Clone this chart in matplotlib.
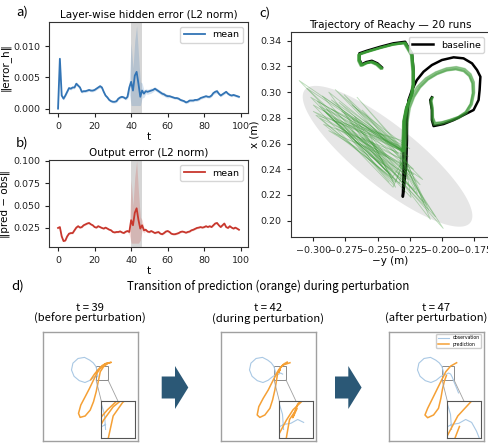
import numpy as np
import matplotlib
matplotlib.use('Agg')
import matplotlib.pyplot as plt
from matplotlib.patches import Rectangle, Polygon

W, H = 488, 443
CJK = ['Noto Sans CJK JP', 'DejaVu Sans']

BLUE = '#3274b5'
RED = '#c8372d'
GREEN = '#3a9a35'
SPAN = '#d6d6d6'
OBS_C = '#a9c8e4'
PRED_C = '#f5a035'
ARROW_C = '#2b5876'

plt.rcParams.update({
    'font.size': 6.8,
    'axes.edgecolor': '#333333',
    'axes.linewidth': 0.8,
    'xtick.major.width': 0.8,
    'ytick.major.width': 0.8,
    'xtick.major.size': 3,
    'ytick.major.size': 3,
    'xtick.labelsize': 6.8,
    'ytick.labelsize': 6.8,
    'xtick.color': '#222222',
    'ytick.color': '#222222',
})

# ---- a) / b) error curves (t = 0..99) ----
PERT_START, PERT_END = 40, 46

HIDDEN_MEAN = [
    0.0000, 0.0080, 0.0021, 0.0016, 0.0021, 0.0027, 0.0033, 0.0032, 0.0034, 0.0034,
    0.0040, 0.0037, 0.0034, 0.0027, 0.0028, 0.0028, 0.0029, 0.0030, 0.0029, 0.0029,
    0.0030, 0.0032, 0.0034, 0.0036, 0.0034, 0.0027, 0.0021, 0.0018, 0.0014, 0.0012,
    0.0011, 0.0011, 0.0012, 0.0016, 0.0018, 0.0019, 0.0018, 0.0016, 0.0019, 0.0034,
    0.0043, 0.0029, 0.0053, 0.0059, 0.0040, 0.0019, 0.0029, 0.0024, 0.0028, 0.0027,
    0.0028, 0.0029, 0.0030, 0.0032, 0.0030, 0.0028, 0.0026, 0.0024, 0.0023, 0.0021,
    0.0020, 0.0020, 0.0019, 0.0018, 0.0017, 0.0017, 0.0016, 0.0014, 0.0013, 0.0012,
    0.0010, 0.0011, 0.0013, 0.0013, 0.0013, 0.0014, 0.0014, 0.0015, 0.0017, 0.0018,
    0.0019, 0.0020, 0.0019, 0.0019, 0.0021, 0.0025, 0.0027, 0.0028, 0.0024, 0.0021,
    0.0023, 0.0025, 0.0027, 0.0024, 0.0022, 0.0021, 0.0022, 0.0021, 0.0020, 0.0019,
]
HIDDEN_SPREAD = [
    0.0002, 0.0004, 0.0003, 0.0002, 0.0002, 0.0002, 0.0002, 0.0002, 0.0002, 0.0002,
    0.0003, 0.0002, 0.0002, 0.0002, 0.0002, 0.0002, 0.0002, 0.0002, 0.0002, 0.0002,
    0.0002, 0.0002, 0.0002, 0.0003, 0.0002, 0.0002, 0.0002, 0.0002, 0.0002, 0.0002,
    0.0002, 0.0002, 0.0002, 0.0002, 0.0002, 0.0002, 0.0002, 0.0002, 0.0003, 0.0010,
    0.0062, 0.0036, 0.0056, 0.0074, 0.0048, 0.0024, 0.0012, 0.0006, 0.0004, 0.0004,
    0.0004, 0.0004, 0.0003, 0.0003, 0.0003, 0.0003, 0.0003, 0.0003, 0.0003, 0.0003,
    0.0003, 0.0002, 0.0002, 0.0002, 0.0002, 0.0002, 0.0002, 0.0002, 0.0002, 0.0002,
    0.0002, 0.0002, 0.0002, 0.0002, 0.0002, 0.0002, 0.0002, 0.0002, 0.0002, 0.0002,
    0.0002, 0.0002, 0.0002, 0.0002, 0.0002, 0.0002, 0.0003, 0.0003, 0.0002, 0.0002,
    0.0002, 0.0002, 0.0002, 0.0002, 0.0002, 0.0002, 0.0002, 0.0002, 0.0002, 0.0002,
]
HIDDEN_FLOOR = 0.0005

OUTPUT_MEAN = [
    0.0250, 0.0260, 0.0156, 0.0103, 0.0110, 0.0156, 0.0186, 0.0193, 0.0193, 0.0224,
    0.0254, 0.0270, 0.0254, 0.0260, 0.0280, 0.0290, 0.0300, 0.0306, 0.0290, 0.0280,
    0.0260, 0.0254, 0.0270, 0.0260, 0.0250, 0.0243, 0.0254, 0.0243, 0.0231, 0.0224,
    0.0205, 0.0200, 0.0205, 0.0205, 0.0212, 0.0200, 0.0193, 0.0208, 0.0216, 0.0205,
    0.0337, 0.0280, 0.0420, 0.0470, 0.0340, 0.0243, 0.0280, 0.0224, 0.0230, 0.0210,
    0.0205, 0.0216, 0.0205, 0.0193, 0.0200, 0.0205, 0.0186, 0.0180, 0.0193, 0.0210,
    0.0216, 0.0205, 0.0186, 0.0180, 0.0180, 0.0186, 0.0193, 0.0205, 0.0210, 0.0205,
    0.0197, 0.0205, 0.0210, 0.0224, 0.0230, 0.0240, 0.0250, 0.0254, 0.0260, 0.0254,
    0.0260, 0.0270, 0.0260, 0.0270, 0.0260, 0.0280, 0.0300, 0.0306, 0.0280, 0.0260,
    0.0280, 0.0300, 0.0260, 0.0250, 0.0270, 0.0254, 0.0243, 0.0254, 0.0243, 0.0230,
]
OUTPUT_SPREAD = [
    0.0010, 0.0012, 0.0010, 0.0009, 0.0009, 0.0009, 0.0009, 0.0009, 0.0009, 0.0009,
    0.0009, 0.0009, 0.0009, 0.0009, 0.0009, 0.0009, 0.0009, 0.0009, 0.0009, 0.0009,
    0.0009, 0.0009, 0.0009, 0.0009, 0.0009, 0.0009, 0.0009, 0.0009, 0.0009, 0.0009,
    0.0009, 0.0009, 0.0009, 0.0009, 0.0009, 0.0009, 0.0009, 0.0009, 0.0010, 0.0030,
    0.0450, 0.0220, 0.0400, 0.0530, 0.0320, 0.0130, 0.0060, 0.0030, 0.0015, 0.0012,
    0.0012, 0.0011, 0.0011, 0.0010, 0.0010, 0.0010, 0.0010, 0.0010, 0.0010, 0.0010,
    0.0010, 0.0009, 0.0009, 0.0009, 0.0009, 0.0009, 0.0009, 0.0009, 0.0009, 0.0009,
    0.0009, 0.0009, 0.0009, 0.0009, 0.0009, 0.0009, 0.0009, 0.0009, 0.0009, 0.0009,
    0.0009, 0.0009, 0.0009, 0.0009, 0.0009, 0.0010, 0.0010, 0.0010, 0.0009, 0.0009,
    0.0009, 0.0009, 0.0009, 0.0009, 0.0009, 0.0009, 0.0009, 0.0009, 0.0009, 0.0009,
]
OUTPUT_FLOOR = 0.008

# ---- c) Reachy trajectory ----
BASE_X = [-0.2467, -0.2501, -0.2545, -0.2589, -0.2623, -0.2642, -0.2642, -0.2584, -0.2480,
          -0.2377, -0.2286, -0.2233, -0.2221, -0.2221, -0.2233, -0.2272, -0.2293, -0.2293,
          -0.2299, -0.2299, -0.2304, -0.2278, -0.2272, -0.2272, -0.2260, -0.2233, -0.2195,
          -0.2143, -0.2078, -0.2000, -0.1909, -0.1832, -0.1766, -0.1727, -0.1701, -0.1707,
          -0.1715, -0.1754, -0.1832, -0.1909, -0.1987, -0.2065, -0.2078, -0.2078, -0.2091,
          -0.2078]
BASE_Y = [0.3193, 0.3224, 0.3244, 0.3234, 0.3216, 0.3255, 0.3302, 0.3322, 0.3353,
          0.3380, 0.3392, 0.3302, 0.3172, 0.3069, 0.2991, 0.2887, 0.2783, 0.2682,
          0.2550, 0.2371, 0.2186, 0.2420, 0.2627, 0.2783, 0.2939, 0.3016, 0.3094,
          0.3159, 0.3211, 0.3250, 0.3271, 0.3263, 0.3224, 0.3172, 0.3120, 0.3016,
          0.2939, 0.2861, 0.2822, 0.2783, 0.2752, 0.2736, 0.2783, 0.2861, 0.2939,
          0.2960]
PRE_POINTS = 19  # baseline points reached before the push

# mean path of the runs after the perturbation
RUN_LOOP_X = [-0.2310, -0.2300, -0.2290, -0.2270, -0.2235, -0.2185, -0.2120, -0.2045,
              -0.1965, -0.1890, -0.1825, -0.1780, -0.1755, -0.1752, -0.1770, -0.1810,
              -0.1870, -0.1940, -0.2010, -0.2060, -0.2075, -0.2078, -0.2088, -0.2078]
RUN_LOOP_Y = [0.2450, 0.2600, 0.2750, 0.2870, 0.2960, 0.3040, 0.3105, 0.3150,
              0.3180, 0.3190, 0.3175, 0.3135, 0.3075, 0.2995, 0.2905, 0.2840,
              0.2800, 0.2775, 0.2755, 0.2750, 0.2790, 0.2870, 0.2930, 0.2960]
LOOP_CENTER = (-0.193, 0.296)
RUN_LOOP_SCALE = [0.96, 1.01, 0.93, 1.04, 0.98, 0.94, 1.03, 0.99, 0.95, 1.05,
                  0.97, 0.92, 1.00, 0.95, 1.03, 0.94, 0.98, 1.02, 0.93, 0.97]
RUN_DX = [-0.0006, 0.0004, -0.0010, 0.0002, -0.0004, 0.0006, -0.0008, 0.0000, -0.0002, 0.0005,
          -0.0012, 0.0003, -0.0005, 0.0001, -0.0009, 0.0004, -0.0003, -0.0007, 0.0002, -0.0001]
RUN_DY = [-0.0010, -0.0006, -0.0014, -0.0008, -0.0004, -0.0012, -0.0009, -0.0005, -0.0011, -0.0007,
          -0.0013, -0.0003, -0.0010, -0.0006, -0.0008, -0.0012, -0.0005, -0.0009, -0.0007, -0.0011]
# positions reached during the push (4 steps per run)
PERT_X = [
    [-0.311, -0.236, -0.290, -0.215], [-0.283, -0.228, -0.262, -0.199],
    [-0.295, -0.240, -0.270, -0.209], [-0.266, -0.232, -0.285, -0.222],
    [-0.302, -0.237, -0.255, -0.212], [-0.278, -0.226, -0.292, -0.229],
    [-0.288, -0.243, -0.270, -0.205], [-0.272, -0.230, -0.298, -0.236],
    [-0.305, -0.238, -0.260, -0.219], [-0.280, -0.222, -0.288, -0.226],
    [-0.293, -0.246, -0.276, -0.214], [-0.262, -0.234, -0.300, -0.238],
    [-0.284, -0.229, -0.266, -0.217], [-0.297, -0.241, -0.279, -0.224],
    [-0.270, -0.225, -0.286, -0.231], [-0.290, -0.236, -0.257, -0.210],
    [-0.276, -0.232, -0.295, -0.239], [-0.300, -0.243, -0.268, -0.221],
    [-0.286, -0.230, -0.282, -0.228], [-0.268, -0.238, -0.292, -0.233],
]
PERT_Y = [
    [0.309, 0.232, 0.284, 0.232], [0.302, 0.246, 0.265, 0.194],
    [0.289, 0.236, 0.280, 0.201], [0.296, 0.258, 0.278, 0.236],
    [0.296, 0.229, 0.262, 0.212], [0.285, 0.250, 0.275, 0.226],
    [0.300, 0.238, 0.270, 0.203], [0.276, 0.262, 0.282, 0.230],
    [0.303, 0.240, 0.258, 0.221], [0.292, 0.240, 0.270, 0.232],
    [0.297, 0.244, 0.284, 0.214], [0.286, 0.252, 0.290, 0.226],
    [0.280, 0.236, 0.272, 0.228], [0.293, 0.230, 0.277, 0.218],
    [0.290, 0.256, 0.287, 0.240], [0.287, 0.226, 0.268, 0.208],
    [0.298, 0.248, 0.280, 0.233], [0.285, 0.250, 0.262, 0.224],
    [0.294, 0.244, 0.272, 0.236], [0.281, 0.234, 0.286, 0.229],
]
ELLIPSE_CENTER = (-0.2423, 0.2501)
ELLIPSE_MAJOR = (0.0643, -0.0517)
ELLIPSE_MINOR = (0.0147, 0.0181)

# ---- d) prediction snapshots (box-normalised coordinates) ----
SNAP_T = [39, 42, 47]
SNAP_PHASE = ['before perturbation', 'during perturbation', 'after perturbation']
OBS_U = [0.578, 0.574, 0.560, 0.532, 0.495, 0.440, 0.372, 0.318, 0.303, 0.330, 0.385,
         0.445, 0.500, 0.545, 0.578, 0.605, 0.630, 0.652, 0.670, 0.688, 0.712, 0.735]
OBS_V = [0.588, 0.640, 0.682, 0.715, 0.740, 0.765, 0.755, 0.712, 0.650, 0.592, 0.552,
         0.535, 0.556, 0.588, 0.605, 0.609, 0.622, 0.612, 0.582, 0.540, 0.490, 0.440]
OBS_SHOWN = [15, 18, 22]
PRED_U = [
    [0.505, 0.545, 0.585, 0.625, 0.670, 0.722, 0.658, 0.606, 0.570, 0.535, 0.493, 0.447,
     0.401, 0.377, 0.394, 0.447, 0.500, 0.535, 0.563, 0.588, 0.606, 0.641, 0.676],
    [0.729, 0.658, 0.613, 0.588, 0.553, 0.500, 0.447, 0.401, 0.384, 0.412, 0.465, 0.518,
     0.546, 0.570, 0.588, 0.600, 0.628, 0.612, 0.630, 0.665, 0.700],
    [0.715, 0.653, 0.601, 0.566, 0.514, 0.462, 0.410, 0.382, 0.410, 0.472, 0.524, 0.549,
     0.565, 0.585, 0.607],
]
PRED_V = [
    [0.560, 0.612, 0.655, 0.690, 0.712, 0.720, 0.704, 0.665, 0.619, 0.558, 0.482, 0.405,
     0.329, 0.253, 0.216, 0.229, 0.283, 0.360, 0.451, 0.558, 0.634, 0.680, 0.704],
    [0.716, 0.695, 0.655, 0.619, 0.558, 0.466, 0.390, 0.314, 0.238, 0.216, 0.238, 0.299,
     0.375, 0.466, 0.558, 0.622, 0.660, 0.628, 0.675, 0.705, 0.722],
    [0.716, 0.686, 0.634, 0.573, 0.482, 0.390, 0.299, 0.238, 0.213, 0.238, 0.299, 0.390,
     0.470, 0.545, 0.598],
]
ZOOM_U = (0.562, 0.688)
ZOOM_V = (0.558, 0.686)

fig = plt.figure(figsize=(W / 100, H / 100), dpi=100)


def px_axes(left, top, right, bottom):
    return fig.add_axes([left / W, 1 - bottom / H, (right - left) / W, (bottom - top) / H])


def panel_label(x, y, s):
    fig.text(x / W, 1 - y / H, s, fontsize=9.5, family=CJK, ha='center', va='center')


t = np.arange(len(HIDDEN_MEAN))

# a) hidden error
ax = px_axes(49, 22, 248, 113)
ax.axvspan(PERT_START, PERT_END, color=SPAN, lw=0, zorder=0)
hm, hs = np.array(HIDDEN_MEAN), np.array(HIDDEN_SPREAD)
h_lo = np.where(hs > 0.001, np.maximum(hm - hs, HIDDEN_FLOOR), hm - hs)
ax.fill_between(t, h_lo, hm + hs, color=BLUE, alpha=0.2, lw=0)
ax.plot(t, hm, color=BLUE, lw=1.3, label='mean')
ax.set_xlim(-4.95, 103.95)
ax.set_ylim(-0.0007, 0.0139)
ax.set_yticks([0.0, 0.005, 0.010])
ax.yaxis.set_major_formatter(matplotlib.ticker.FormatStrFormatter('%.3f'))
ax.set_title('Layer-wise hidden error (L2 norm)', fontsize=7.5, pad=3)
ax.set_xlabel('t', fontsize=7.5, labelpad=1)
ax.set_ylabel('‖error_h‖', fontsize=7.5, labelpad=2)
ax.legend(loc='upper right', fontsize=6.8, handlelength=2.2, borderpad=0.4)
panel_label(21.7, 11.7, 'a)')

# b) output error
ax = px_axes(49, 160, 248, 247)
ax.axvspan(PERT_START, PERT_END, color=SPAN, lw=0, zorder=0)
om, os_ = np.array(OUTPUT_MEAN), np.array(OUTPUT_SPREAD)
o_lo = np.where(os_ > 0.002, np.maximum(om - os_, OUTPUT_FLOOR), om - os_)
ax.fill_between(t, o_lo, om + os_, color=RED, alpha=0.2, lw=0)
ax.plot(t, om, color=RED, lw=1.3, label='mean')
ax.set_xlim(-4.95, 103.95)
ax.set_ylim(0.0037, 0.101)
ax.set_yticks([0.025, 0.050, 0.075, 0.100])
ax.yaxis.set_major_formatter(matplotlib.ticker.FormatStrFormatter('%.3f'))
ax.set_title('Output error (L2 norm)', fontsize=7.5, pad=3)
ax.set_xlabel('t', fontsize=7.5, labelpad=1)
ax.set_ylabel('‖pred − obs‖', fontsize=7.5, labelpad=2)
ax.legend(loc='upper right', fontsize=6.8, handlelength=2.2, borderpad=0.4)
panel_label(22, 143, 'b)')

# c) trajectory
ax = px_axes(290.7, 32, 489, 237)
th = np.linspace(0, 2 * np.pi, 200)
ex = ELLIPSE_CENTER[0] + ELLIPSE_MAJOR[0] * np.cos(th) + ELLIPSE_MINOR[0] * np.sin(th)
ey = ELLIPSE_CENTER[1] + ELLIPSE_MAJOR[1] * np.cos(th) + ELLIPSE_MINOR[1] * np.sin(th)
ax.fill(ex, ey, color='#e6e6e6', lw=0, zorder=0)
ax.plot(BASE_X, BASE_Y, color='black', lw=1.8, zorder=2, label='baseline')
bx, by = np.array(BASE_X), np.array(BASE_Y)
lx, ly = np.array(RUN_LOOP_X), np.array(RUN_LOOP_Y)
for r in range(len(RUN_LOOP_SCALE)):
    pre_x = bx[:PRE_POINTS] + RUN_DX[r]
    pre_y = by[:PRE_POINTS] + RUN_DY[r]
    post_x = LOOP_CENTER[0] + (lx - LOOP_CENTER[0]) * RUN_LOOP_SCALE[r]
    post_y = LOOP_CENTER[1] + (ly - LOOP_CENTER[1]) * RUN_LOOP_SCALE[r]
    ax.plot(pre_x, pre_y, color=GREEN, lw=1.1, alpha=0.35, zorder=3)
    ax.plot(np.r_[pre_x[-1], PERT_X[r], post_x[0]], np.r_[pre_y[-1], PERT_Y[r], post_y[0]],
            color=GREEN, lw=0.6, alpha=0.35, zorder=3)
    ax.plot(post_x, post_y, color=GREEN, lw=0.7, alpha=0.22, zorder=3)
ax.set_xlim(-0.3176, -0.1634)
ax.set_ylim(0.1873, 0.3468)
ax.set_xticks([-0.300, -0.275, -0.250, -0.225, -0.200, -0.175])
ax.set_yticks([0.20, 0.22, 0.24, 0.26, 0.28, 0.30, 0.32, 0.34])
ax.yaxis.set_major_formatter(matplotlib.ticker.FormatStrFormatter('%.2f'))
ax.xaxis.set_major_formatter(matplotlib.ticker.FuncFormatter(lambda v, p: f'{v:.3f}'.replace('-', '−')))
ax.set_title('Trajectory of Reachy — 20 runs', fontsize=7.5, pad=3)
ax.set_xlabel('−y (m)', fontsize=7.5, labelpad=1)
ax.set_ylabel('x (m)', fontsize=7.5, labelpad=0.5)
ax.legend(loc='upper right', fontsize=6.8, handlelength=2.2, borderpad=0.4)
panel_label(265, 13, 'c)')

# d) snapshots
panel_label(18, 286, 'd)')
fig.text(267.8 / W, 1 - 286.7 / H, 'Transition of prediction (orange) during perturbation',
         fontsize=8.3, family=CJK, ha='center', va='center')

box_lefts = [42.7, 220.7, 388.7]
for i, left in enumerate(box_lefts):
    bax = px_axes(left, 331.7, left + 95, 441)
    bax.set_xlim(0, 1)
    bax.set_ylim(0, 1)
    bax.set_xticks([])
    bax.set_yticks([])
    for s in bax.spines.values():
        s.set_color('#a0a0a0')
        s.set_linewidth(1.0)
    n = OBS_SHOWN[i]
    bax.plot(OBS_U[:n], OBS_V[:n], color=OBS_C, lw=0.8, label='observation')
    bax.plot(PRED_U[i], PRED_V[i], color=PRED_C, lw=1.1, label='prediction')
    bax.add_patch(Rectangle((ZOOM_U[0], ZOOM_V[0]), ZOOM_U[1] - ZOOM_U[0], ZOOM_V[1] - ZOOM_V[0],
                            fill=False, edgecolor='#8a8a8a', lw=0.7))
    ins = [0.616, 0.025, 0.36, 0.344]
    bax.plot([ZOOM_U[0], ins[0]], [ZOOM_V[0], ins[1] + ins[3]], color='#a0a0a0', lw=0.6)
    bax.plot([ZOOM_U[1], ins[0] + ins[2]], [ZOOM_V[0], ins[1]], color='#a0a0a0', lw=0.6)
    iax = bax.inset_axes(ins)
    iax.plot(OBS_U[:n], OBS_V[:n], color=OBS_C, lw=0.8)
    iax.plot(PRED_U[i], PRED_V[i], color=PRED_C, lw=1.1)
    iax.set_xlim(*ZOOM_U)
    iax.set_ylim(*ZOOM_V)
    iax.set_xticks([])
    iax.set_yticks([])
    for s in iax.spines.values():
        s.set_color('#555555')
        s.set_linewidth(0.8)
    bax.set_title(f't = {SNAP_T[i]}\n({SNAP_PHASE[i]})', fontsize=8.1, family=CJK, pad=7,
                  linespacing=1.05)
    if i == 2:
        bax.legend(loc='upper right', fontsize=3.3, handlelength=2.5, borderpad=0.3,
                   labelspacing=0.3, framealpha=1)

# block arrows between snapshots (pixel geometry)
for x0, head in [(161.7, 175.0), (335.0, 348.3)]:
    tip = head + 13.3
    cy = 387.5
    pts = [(x0, cy - 11), (head, cy - 11), (head, cy - 21.5), (tip, cy),
           (head, cy + 21.5), (head, cy + 11), (x0, cy + 11)]
    fig.patches.append(Polygon([(x / W, 1 - y / H) for x, y in pts], closed=True,
                               transform=fig.transFigure, facecolor=ARROW_C, edgecolor='none'))

fig.savefig('out.png', dpi=100)
